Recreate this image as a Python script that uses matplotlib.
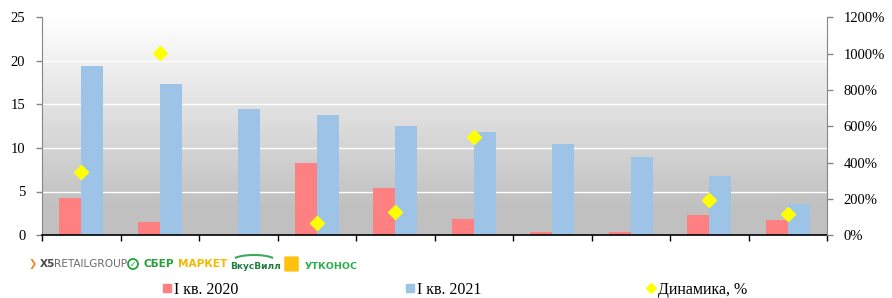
import numpy as np
import matplotlib
matplotlib.use("Agg")
import matplotlib.pyplot as plt
from matplotlib.lines import Line2D
from matplotlib.patches import FancyBboxPatch, Ellipse, Arc

# ---- data ----
categories = [f"Компания {i+1}" for i in range(10)]
q1_2020 = [4.3, 1.55, 0.0, 8.33, 5.45, 1.84, 0.31, 0.38, 2.27, 1.69]
q1_2021 = [19.43, 17.32, 14.44, 13.82, 12.56, 11.83, 10.41, 9.02, 6.76, 3.61]
dynamics = [345, 1003, np.nan, 66, 129, 538, np.nan, np.nan, 195, 114]
left_ticks = [0, 5, 10, 15, 20, 25]
right_ticks = [0, 200, 400, 600, 800, 1000, 1200]
series_names = ["I кв. 2020", "I кв. 2021", "Динамика, %"]

RED = "#FF8080"
BLUE = "#9DC3E6"
YELLOW = "#FFFF00"
SERIF = ["Liberation Serif", "DejaVu Serif"]
FS = 10.5
LFS = 11.5

W, H = 892, 298
fig = plt.figure(figsize=(W / 100, H / 100), dpi=100)
ax = fig.add_axes([42 / W, 1 - 235 / H, (827 - 42) / W, (235 - 17.5) / H])

x = np.arange(len(categories))
bw = 0.28

# gradient background
ys = np.linspace(0, 25, 300)
t = np.clip((ys - 3) / 22, 0, 1)
g = 0xC0 / 255 + t * (1 - 0xC0 / 255)
img = np.repeat(g[:, None], 2, axis=1)
img = np.dstack([img, img, img])
ax.imshow(img, extent=(-0.5, len(categories) - 0.5, 0, 25), origin="lower",
          aspect="auto", zorder=0, interpolation="bilinear")

for yv in left_ticks[1:-1]:
    ax.axhline(yv, color="white", lw=1.0, zorder=1)

ax.bar(x - bw / 2, q1_2020, width=bw, color=RED, zorder=2, label=series_names[0])
ax.bar(x + bw / 2, q1_2021, width=bw, color=BLUE, zorder=2, label=series_names[1])

ax.set_xlim(-0.5, len(categories) - 0.5)
ax.set_ylim(0, 25)
ax.set_yticks(left_ticks)
ax.set_xticks(np.arange(len(categories) + 1) - 0.5)
ax.set_xticklabels([])
ax.tick_params(axis="x", direction="out", length=4, width=1, color="black")
ax.tick_params(axis="y", direction="out", length=4, width=1, color="#868686", pad=8,
               labelsize=FS)
for lab in ax.get_yticklabels():
    lab.set_family(SERIF)
ax.spines["top"].set_visible(False)
ax.spines["right"].set_visible(False)
ax.spines["left"].set_color("#868686")
ax.spines["bottom"].set_color("black")
ax.spines["bottom"].set_linewidth(1.2)

ax2 = ax.twinx()
ax2.plot(x, dynamics, linestyle="none", marker="D", markersize=7.5, color=YELLOW,
         markeredgecolor=YELLOW, zorder=5, label=series_names[2])
ax2.set_ylim(0, 1200)
ax2.set_yticks(right_ticks)
ax2.set_yticklabels([f"{v}%" for v in right_ticks])
ax2.tick_params(axis="y", direction="out", length=4, width=1, color="#868686", pad=8,
                labelsize=FS)
for lab in ax2.get_yticklabels():
    lab.set_family(SERIF)
for s in ["top", "left", "bottom"]:
    ax2.spines[s].set_visible(False)
ax2.spines["right"].set_color("#868686")

# legends
handles = [
    Line2D([], [], linestyle="none", marker="s", markersize=6, color=RED),
    Line2D([], [], linestyle="none", marker="s", markersize=6, color=BLUE),
    Line2D([], [], linestyle="none", marker="D", markersize=5, color=YELLOW),
]
anchors = [163, 406, 647]
for h, name, ax_px in zip(handles, series_names, anchors):
    fig.legend([h], [name], loc="center left", bbox_to_anchor=(ax_px / W, 1 - 290 / H),
               frameon=False, borderpad=0, borderaxespad=0, handlelength=0.5,
               handletextpad=0.2, prop={"family": SERIF, "size": LFS})

# logos (as text)
ly = 1 - 264 / H
logo_fs = 7.6
fig.text(29 / W, ly, "❯", color="#F58220", fontsize=7, fontweight="bold", va="center",
         family=["DejaVu Sans"])
fig.text(40 / W, ly, "X5", color="#4A4A4A", fontsize=logo_fs, fontweight="bold", va="center",
         family=["DejaVu Sans"])
fig.text(54 / W, ly, "RETAILGROUP", color="#6A6A6A", fontsize=logo_fs, va="center",
         family=["DejaVu Sans"])
fig.add_artist(Ellipse((133 / W, ly), 10 / W, 10 / H, transform=fig.transFigure,
                       facecolor="none", edgecolor="#21A038", lw=1.3))
fig.text(133 / W, ly, "✓", color="#21A038", fontsize=5.5, fontweight="bold", va="center",
         ha="center", family=["DejaVu Sans"])
fig.text(143 / W, ly, "СБЕР", color="#21A038", fontsize=logo_fs, fontweight="bold",
         va="center", family=["DejaVu Sans"])
fig.text(178 / W, ly, "МАРКЕТ", color="#F5B800", fontsize=logo_fs, fontweight="bold",
         va="center", family=["DejaVu Sans"])
fig.add_artist(Arc((254 / W, 1 - 261 / H), 44 / W, 12 / H, theta1=25, theta2=155,
                   transform=fig.transFigure, color="#3BAA5C", lw=1.5))
fig.text(230 / W, ly - 0.01, "ВкусВилл", color="#1E7D3C", fontsize=6.5, fontweight="bold",
         va="center", family=["DejaVu Sans"])
fig.add_artist(FancyBboxPatch((286 / W, 1 - 271 / H), 11 / W, 14 / H,
                              boxstyle="round,pad=0.002", transform=fig.transFigure,
                              facecolor="#FFC20E", edgecolor="none"))
fig.text(305 / W, ly - 0.01, "УТКОНОС", color="#2BAE4A", fontsize=6.8, fontweight="bold",
         va="center", family=["DejaVu Sans"])

fig.savefig("out.png", dpi=100)
